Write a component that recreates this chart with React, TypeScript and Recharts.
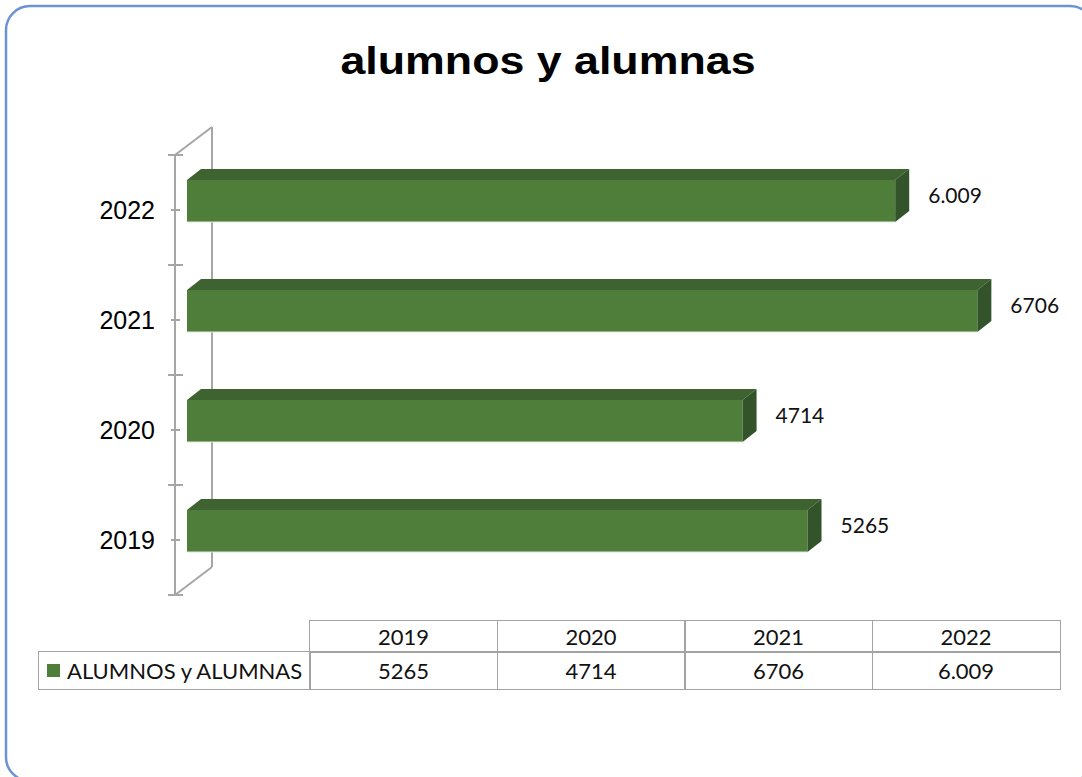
import { Bar, BarChart, LabelList, XAxis, YAxis } from 'recharts';

const years = ['2019', '2020', '2021', '2022'];
const students = [5265, 4714, 6706, 6009];
const studentLabels = ['5265', '4714', '6706', '6.009'];
const seriesName = 'ALUMNOS y ALUMNAS';
const chartTitle = 'alumnos y alumnas';

const data = years.map((year, i) => ({ year, value: students[i], label: studentLabels[i] }));

const W = 1082;
const H = 777;
const PLOT_LEFT = 187;
const PLOT_TOP = 155;
const PLOT_BOTTOM = 595;
const CHART_H = 620;

const FRONT = '#4f7e3b';
const TOP = '#3e6330';
const SIDE = '#33532a';
const WALL = '#a6a6a6';
const DX = 14;
const DY = 11;

function Bar3D(props: any) {
  const { x, y, width } = props;
  const fy = y - 9;
  const h = 42;
  return (
    <g>
      <rect x={x} y={fy} width={width} height={h} fill={FRONT} />
      <polygon
        points={`${x},${fy} ${x + DX},${fy - DY} ${x + width + DX},${fy - DY} ${x + width},${fy}`}
        fill={TOP}
      />
      <polygon
        points={`${x + width},${fy} ${x + width + DX},${fy - DY} ${x + width + DX},${fy + h - DY} ${x + width},${fy + h}`}
        fill={SIDE}
      />
      <line x1={x} x2={x + width} y1={fy + h} y2={fy + h} stroke="#dfe9d8" strokeWidth={1} />
    </g>
  );
}

function ValueLabel(props: any) {
  const { x, y, width, value } = props;
  return (
    <text
      x={x + width + 33}
      y={y + 5}
      dominantBaseline="central"
      fontFamily="Lato, 'Open Sans', sans-serif"
      fontSize={21}
      fill="#111"
    >
      {value}
    </text>
  );
}

function Wall() {
  const band = (PLOT_BOTTOM - PLOT_TOP) / years.length;
  const ax = 175;
  const bx = 212;
  const depth = 28;
  return (
    <svg width={W} height={H} style={{ position: 'absolute', left: 0, top: 0 }}>
      <rect x={6} y={6} width={1088} height={775} rx={24} fill="#fff" stroke="#6b93d3" strokeWidth={2.5} />
      <g stroke={WALL} strokeWidth={2} fill="none">
        <line x1={ax} x2={ax} y1={PLOT_TOP} y2={PLOT_BOTTOM} />
        <line x1={bx} x2={bx} y1={PLOT_TOP - depth} y2={PLOT_BOTTOM - depth} />
        <line x1={ax} x2={bx} y1={PLOT_TOP} y2={PLOT_TOP - depth} />
        <line x1={ax} x2={bx} y1={PLOT_BOTTOM} y2={PLOT_BOTTOM - depth} />
        {years.map((_, i) => (
          <line key={`b${i}`} x1={168} x2={183} y1={PLOT_TOP + i * band} y2={PLOT_TOP + i * band} />
        ))}
        <line x1={168} x2={183} y1={PLOT_BOTTOM} y2={PLOT_BOTTOM} />
        {years.map((_, i) => (
          <line key={`c${i}`} x1={171} x2={180} y1={PLOT_TOP + (i + 0.5) * band} y2={PLOT_TOP + (i + 0.5) * band} />
        ))}
      </g>
    </svg>
  );
}

function DataTable() {
  const left = 38;
  const split = 309;
  const right = 1059;
  const colW = (right - split) / years.length;
  const top = 620;
  const mid = 651;
  const bottom = 690;
  const border = '1.5px solid #a3a3a3';
  const font = "Lato, 'Open Sans', sans-serif";
  const cell = (x: number, y: number, w: number, h: number) => ({
    position: 'absolute' as const,
    left: x,
    top: y,
    width: w,
    height: h,
    boxSizing: 'border-box' as const,
    border,
    display: 'flex',
    alignItems: 'center',
    justifyContent: 'center',
    fontFamily: font,
    fontSize: 22,
    color: '#111',
  });
  return (
    <div style={{ position: 'absolute', left: 0, top: 0 }}>
      {years.map((year, i) => (
        <div key={`h${year}`} style={cell(split + i * colW, top, colW + 1.5, mid - top + 1.5)}>
          {year}
        </div>
      ))}
      <div style={{ ...cell(left, mid, split - left + 1.5, bottom - mid), justifyContent: 'flex-start' }}>
        <span style={{ display: 'inline-block', width: 13, height: 13, background: FRONT, marginLeft: 8, marginRight: 7 }} />
        {seriesName}
      </div>
      {studentLabels.map((label, i) => (
        <div key={`v${i}`} style={cell(split + i * colW, mid, colW + 1.5, bottom - mid)}>
          {label}
        </div>
      ))}
    </div>
  );
}

export default function App() {
  return (
    <div style={{ position: 'absolute', left: 0, top: 0, width: W, height: H, overflow: 'hidden', background: '#fff' }}>
      <Wall />
      <svg width={W} height={100} style={{ position: 'absolute', left: 0, top: 0 }}>
        <text
          x={548}
          y={74}
          textAnchor="middle"
          fontFamily="'Liberation Sans', Arial, sans-serif"
          fontWeight="bold"
          fontSize={38}
          textLength={415}
          lengthAdjust="spacingAndGlyphs"
          fill="#000"
        >
          {chartTitle}
        </text>
      </svg>
      <div style={{ position: 'absolute', left: 0, top: 0 }}>
        <BarChart
          width={W}
          height={CHART_H}
          data={data}
          layout="vertical"
          margin={{ top: PLOT_TOP, right: 70, bottom: CHART_H - PLOT_BOTTOM, left: 0 }}
        >
          <XAxis type="number" domain={[0, 7000]} hide />
          <YAxis
            type="category"
            dataKey="year"
            reversed
            width={PLOT_LEFT}
            axisLine={false}
            tickLine={false}
            tickSize={0}
            tickMargin={32}
            tick={{ fill: '#000', fontSize: 25, fontFamily: "'Liberation Sans', Arial, sans-serif" }}
          />
          <Bar dataKey="value" barSize={43} shape={(p: any) => <Bar3D {...p} />} isAnimationActive={false}>
            <LabelList dataKey="label" content={(p: any) => <ValueLabel {...p} />} />
          </Bar>
        </BarChart>
      </div>
      <DataTable />
    </div>
  );
}
